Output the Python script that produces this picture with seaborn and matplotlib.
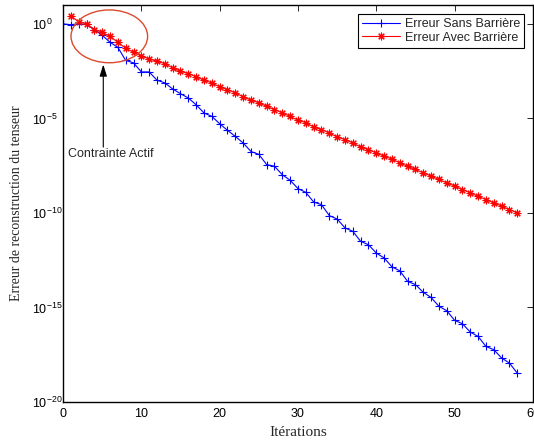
import numpy as np
import pandas as pd
import matplotlib
matplotlib.use("Agg")
import matplotlib.pyplot as plt
from matplotlib.patches import Ellipse
from matplotlib.ticker import NullLocator, LogFormatterSciNotation
import seaborn as sns

# log10 of the reconstruction error per iteration
iter_sans = list(range(0, 59))
log_err_sans = [
    0.00, -0.04, 0.00, -0.03, -0.30, -0.60, -0.97, -1.24, -1.93, -2.06,
    -2.54, -2.54, -2.98, -3.12, -3.44, -3.69, -3.92, -4.28, -4.71, -4.89,
    -5.28, -5.63, -5.95, -6.30, -6.75, -6.90, -7.44, -7.53, -7.98, -8.27,
    -8.71, -8.91, -9.42, -9.56, -10.14, -10.32, -10.79, -10.97, -11.50, -11.68,
    -12.12, -12.38, -12.85, -13.06, -13.62, -13.79, -14.20, -14.47, -14.94, -15.17,
    -15.68, -15.86, -16.30, -16.53, -17.06, -17.23, -17.67, -17.94, -18.47,
]
iter_avec = list(range(1, 59))
log_err_avec = [
    0.40, 0.12, 0.00, -0.30, -0.44, -0.66, -0.97, -1.29, -1.50, -1.71,
    -1.85, -1.98, -2.10, -2.33, -2.51, -2.63, -2.80, -2.98, -3.12, -3.33,
    -3.48, -3.65, -3.86, -4.03, -4.17, -4.36, -4.53, -4.71, -4.89, -5.10,
    -5.22, -5.46, -5.59, -5.77, -5.98, -6.12, -6.30, -6.51, -6.65, -6.83,
    -7.00, -7.15, -7.35, -7.53, -7.70, -7.88, -8.05, -8.23, -8.41, -8.58,
    -8.76, -8.94, -9.12, -9.29, -9.47, -9.64, -9.82, -10.00,
]
label_sans = "Erreur Sans Barrière"
label_avec = "Erreur Avec Barrière"
x_ticks = [0, 10, 20, 30, 40, 50, 60]
y_tick_exponents = [0, -5, -10, -15, -20]

sns.set_style("white")
plt.rcParams["font.family"] = ["Liberation Sans", "DejaVu Sans"]
plt.rcParams["mathtext.fontset"] = "custom"
plt.rcParams["mathtext.rm"] = "Liberation Sans"
plt.rcParams["mathtext.it"] = "Liberation Sans:italic"
plt.rcParams["mathtext.bf"] = "Liberation Sans:bold"

df_sans = pd.DataFrame({"it": iter_sans, "err": 10.0 ** np.array(log_err_sans)})
df_avec = pd.DataFrame({"it": iter_avec, "err": 10.0 ** np.array(log_err_avec)})

fig = plt.figure(figsize=(5.34, 4.41), dpi=100)
ax = fig.add_axes([0.118, 0.0884, 0.880, 0.9003])

sns.lineplot(data=df_sans, x="it", y="err", ax=ax, color="#0000ff", lw=0.8,
             marker="+", markersize=6, markeredgewidth=0.8,
             markeredgecolor="#0000ff", label=label_sans,
             sort=False, estimator=None)
sns.lineplot(data=df_avec, x="it", y="err", ax=ax, color="#ff0000", lw=0.8,
             marker=(8, 2, 0), markersize=5.5, markeredgewidth=0.8,
             markeredgecolor="#ff0000", label=label_avec,
             sort=False, estimator=None)

ax.set_yscale("log")
ax.set_xlim(0, 60)
ax.set_ylim(1e-20, 1e1)
ax.set_xticks(x_ticks)
ax.set_yticks([10.0 ** e for e in y_tick_exponents])
ax.yaxis.set_minor_locator(NullLocator())
ax.yaxis.set_major_formatter(LogFormatterSciNotation())

for side in ["left", "right", "top", "bottom"]:
    ax.spines[side].set_visible(True)
    ax.spines[side].set_color("black")
    ax.spines[side].set_linewidth(1.0)

ax.tick_params(axis="both", which="major", direction="in", length=4, width=0.6,
               top=True, right=True, labelsize=9, colors="black")
ax.tick_params(axis="x", pad=4)
ax.tick_params(axis="y", pad=22)
for lbl in ax.get_yticklabels():
    lbl.set_horizontalalignment("left")

ax.set_xlabel("Itérations", family=["Liberation Serif"], fontsize=11)
ax.set_ylabel("Erreur de reconstruction du tenseur", family=["Liberation Serif"], fontsize=10)
ax.xaxis.set_label_coords(0.5, -0.060)
ax.yaxis.set_label_coords(-0.086, 0.5)

leg = ax.legend(loc="upper right", fontsize=9, frameon=True, fancybox=False,
                framealpha=1, edgecolor="black", borderaxespad=0.7,
                labelspacing=0.12, borderpad=0.35, handlelength=3.0,
                handletextpad=0.4)
leg.get_frame().set_linewidth(0.8)

# region where the constraint is active
ax.add_patch(Ellipse((0.0985, 0.921), 0.163, 0.133, transform=ax.transAxes,
                     fill=False, edgecolor="#dc4a2c", lw=1.0, zorder=5))
ax.annotate("", xy=(0.0857, 0.850), xytext=(0.0857, 0.642),
            xycoords="axes fraction", textcoords="axes fraction",
            arrowprops=dict(arrowstyle="-|>,head_length=0.7,head_width=0.22",
                            color="black", lw=0.8, shrinkA=0, shrinkB=0))
ax.text(0.101, 0.625, "Contrainte Actif", transform=ax.transAxes,
        ha="center", va="center", fontsize=9)

fig.savefig("out.png", dpi=100)
